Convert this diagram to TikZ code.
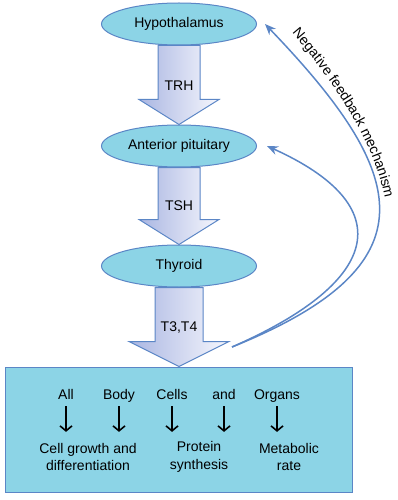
\documentclass[tikz,border=0pt]{standalone}
\usepackage{fontspec}
\setmainfont{Liberation Sans}
\usetikzlibrary{calc,shapes.geometric,arrows.meta,decorations.text}

\definecolor{glandfill}{HTML}{8CD4E6}
\definecolor{glandline}{HTML}{5B86C6}
\definecolor{signaldark}{HTML}{AAB6E2}
\definecolor{signallight}{HTML}{F6F7FD}

% block arrow between two glands: from, to, label, half shaft, half head
\newcommand{\hormone}[5]{%
	\path[signal] let \p1=(#1.south), \p2=(#2.north) in
		(\x1-#4,\y1) -- (\x1+#4,\y1) -- (\x1+#4,\y2+25pt) -- (\x1+#5,\y2+25pt)
		-- (\x1,\y2) -- (\x1-#5,\y2+25pt) -- (\x1-#4,\y2+25pt) -- cycle;
	\path let \p1=(#1.south), \p2=(#2.north) in
		node at (\x1,\y2+39pt) {#3};}

\begin{document}
\begin{tikzpicture}
	[x=1pt,y=-1pt,
	 font=\fontsize{14}{17.5}\selectfont,
	 gland/.style={ellipse,draw=glandline,fill=glandfill,line width=1pt,
		minimum width=155pt,minimum height=42pt,inner sep=0pt},
	 signal/.style={draw=glandline,line width=1pt,left color=signaldark,right color=signallight},
	 word/.style={inner sep=0pt,anchor=base,text height=0.75em,text depth=0.25em},
	 result/.style={inner sep=0pt,align=center},
	 effect/.style={-{Straight Barb[length=5pt,width=12pt]},line width=1.6pt,
		shorten <=4.5pt,shorten >=11pt},
	 feedback/.style={-{Stealth[length=11pt,width=9pt]},draw=glandline,line width=1.5pt}]
	\useasboundingbox (0,0) rectangle (398,500);

	% glands
	\node[gland] (hyp) at (179,24) {Hypothalamus};
	\node[gland] (ant) at (179,146) {Anterior pituitary};
	\node[gland] (thy) at (179,266) {Thyroid};

	% target box
	\node[draw=glandline,fill=glandfill,line width=1pt,minimum width=347pt,
		minimum height=125pt,inner sep=0pt] (effects) at (178.5,429.5) {};

	% hormones
	\hormone{hyp}{ant}{TRH}{21pt}{40pt}
	\hormone{ant}{thy}{TSH}{21pt}{40pt}
	\hormone{thy}{effects}{T3,T4}{24pt}{50pt}

	% inside the box
	\node[word] (all) at (66,399) {All};
	\node[word] (body) at (119,399) {Body};
	\node[word] (cells) at (172,399) {Cells};
	\node[word] (and) at (224,399) {and};
	\node[word] (organs) at (277,399) {Organs};

	\node[result] (growth) at (88,457) {Cell growth and\\differentiation};
	\node[result] (protein) at (199,457) {Protein\\synthesis};
	\node[result] (rate) at (289,457) {Metabolic\\rate};

	\foreach \w in {all,body,cells,and,organs}
		\draw[effect] (\w.south) -- (\w.south |- growth.north);

	% negative feedback
	\coordinate (fbstart) at (232,347);
	\draw[feedback] (fbstart) .. controls (435,265) and (410,175) .. ([xshift=8pt]hyp.east);
	\draw[feedback] (fbstart) .. controls (385,280) and (398,205) .. ([xshift=10pt]ant.east);
	\path[decorate,decoration={text along path,text align=left,
		text={|\fontsize{14}{16}\selectfont|Negative feedback mechanism}}]
		(292,33) .. controls (330,78) and (384,150) .. (388,222);
\end{tikzpicture}
\end{document}
